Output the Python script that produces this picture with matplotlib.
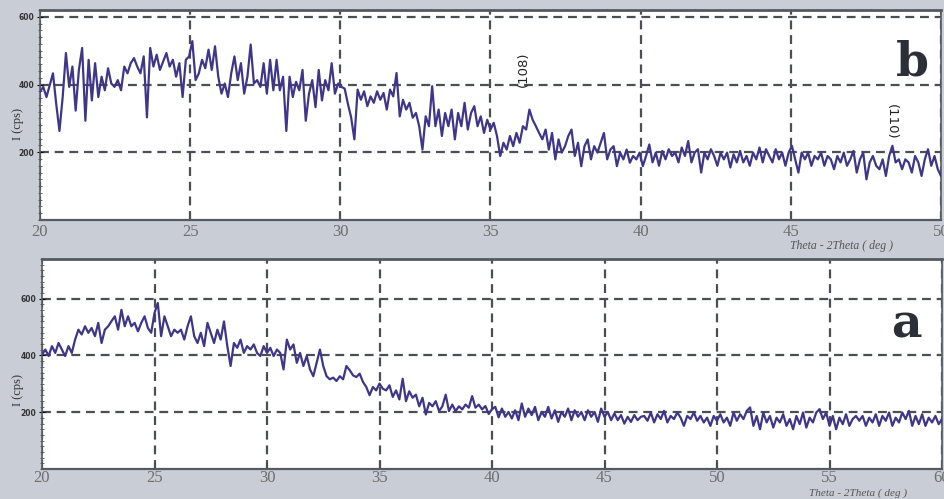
import matplotlib
matplotlib.use("Agg")
import matplotlib.pyplot as plt
import numpy as np
from matplotlib.ticker import MultipleLocator

# Intensity (cps), left to right
b_20_30 = [378, 393, 363, 398, 433, 343, 263, 363, 493, 393, 453, 323, 443, 508, 293, 473,
           353, 463, 363, 423, 383, 448, 403, 393, 413, 383, 453, 433, 463, 478, 453, 433,
           483, 303, 508, 453, 488, 443, 468, 493, 453, 473, 423, 463, 363, 473, 483, 528,
           413, 433, 473, 448, 503, 443, 513, 423, 373, 403, 363, 433, 483, 413, 463, 373,
           423, 518, 403, 413, 393, 463, 373, 473, 383, 473, 383, 423, 263, 423, 363, 408,
           383, 443, 293, 373, 413, 333, 443, 353, 413, 383, 463, 373, 403, 393, 388, 343, 303]
b_30_40 = [238, 385, 355, 380, 336, 365, 346, 380, 355, 375, 326, 385, 365, 434, 306, 355,
           326, 346, 302, 316, 277, 208, 306, 277, 395, 277, 326, 248, 316, 277, 326, 238,
           316, 277, 346, 267, 316, 336, 277, 306, 257, 296, 267, 287, 248, 189, 228, 208,
           248, 218, 257, 228, 277, 267, 326, 296, 277, 257, 238, 267, 208, 257, 179, 238,
           199, 218, 248, 267, 189, 228, 159, 218, 238, 179, 218, 199, 228, 257, 179, 208,
           218, 159, 199, 179, 208, 169, 189, 179, 199, 159, 189]
b_40_50 = [223, 170, 199, 160, 204, 179, 209, 189, 199, 170, 214, 189, 233, 170, 199, 209,
           140, 199, 179, 209, 189, 160, 199, 179, 199, 155, 194, 170, 204, 170, 189, 160,
           199, 179, 214, 170, 209, 189, 170, 209, 179, 199, 160, 199, 219, 179, 140, 199,
           179, 199, 160, 189, 179, 199, 160, 189, 179, 150, 189, 170, 199, 160, 179, 204,
           140, 179, 199, 120, 170, 189, 160, 150, 179, 130, 189, 219, 170, 179, 150, 179,
           170, 140, 189, 170, 130, 179, 209, 160, 189, 150, 130]

a_20_33 = [403, 421, 398, 433, 409, 444, 421, 398, 433, 409, 456, 491, 474, 503, 480, 497,
           468, 515, 444, 491, 503, 521, 538, 491, 561, 503, 538, 503, 515, 485, 515, 538,
           497, 480, 550, 585, 468, 538, 503, 468, 491, 480, 491, 456, 503, 538, 468, 444,
           480, 433, 515, 480, 444, 491, 456, 520, 433, 363, 444, 427, 456, 409, 433, 421,
           439, 409, 398, 433, 409, 427, 398, 421, 409, 351, 456, 421, 439, 374, 409, 363,
           398, 351, 327, 374, 421, 363, 327, 316, 322, 310, 327, 316, 363]
a_33_46 = [348, 330, 324, 336, 307, 289, 260, 289, 277, 301, 283, 277, 295, 254, 277, 245,
           318, 239, 274, 251, 262, 221, 251, 192, 233, 221, 239, 204, 221, 262, 204, 227,
           204, 221, 210, 227, 216, 257, 216, 227, 210, 222, 194, 211, 219, 182, 213, 184,
           201, 178, 207, 172, 231, 184, 213, 190, 219, 172, 201, 184, 219, 178, 207, 166,
           201, 184, 213, 172, 207, 184, 201, 172, 207, 184, 201, 166, 213, 184, 201, 172,
           196, 172, 190, 160, 184, 166, 190, 172, 184]
a_46_60 = [187, 170, 199, 164, 193, 176, 205, 164, 187, 176, 199, 181, 152, 187, 176, 199,
           170, 187, 164, 181, 152, 187, 170, 193, 164, 181, 152, 199, 170, 193, 176, 205,
           217, 152, 187, 140, 199, 164, 187, 146, 181, 164, 193, 152, 176, 140, 187, 158,
           199, 146, 181, 164, 199, 211, 176, 199, 152, 187, 140, 181, 158, 193, 152, 176,
           187, 170, 187, 152, 181, 164, 193, 152, 187, 170, 199, 152, 181, 164, 199, 176,
           205, 152, 187, 158, 193, 152, 181, 164, 187, 158, 176]

intensity_b = b_20_30 + b_30_40 + b_40_50
intensity_a = a_20_33 + a_33_46 + a_46_60
theta_b = np.linspace(20, 50, len(intensity_b))
theta_a = np.linspace(20, 60, len(intensity_a))

y_ticks = [200, 400, 600]
peaks_b = [("(108)", 36.1, 445, 90), ("(110)", 48.35, 290, 270)]

LINE = "#3f368a"
GRID = "#4a4f56"
BG = "#c9cdd6"


def style_axes(ax, xmax, xstep, ymax, xpad):
    ax.set_facecolor("white")
    ax.set_xlim(20, xmax)
    ax.set_ylim(0, ymax)
    ax.set_xticks(np.arange(20, xmax + 1, xstep))
    ax.set_yticks(y_ticks)
    ax.yaxis.set_minor_locator(MultipleLocator(20))
    ax.grid(True, color=GRID, linestyle=(0, (4, 2.6)), linewidth=1.6)
    ax.tick_params(axis="x", length=0, pad=xpad, labelsize=12, labelcolor="#6e6e6e")
    ax.tick_params(axis="y", which="major", length=4, direction="inout",
                   labelsize=5.5, labelcolor="#333333", pad=2)
    ax.tick_params(axis="y", which="minor", length=2.5, direction="inout", color="#555555")
    for lab in ax.get_xticklabels():
        lab.set_fontfamily("Liberation Serif")
    for lab in ax.get_yticklabels():
        lab.set_fontweight("bold")
    for s in ax.spines.values():
        s.set_color("#555a60")
        s.set_linewidth(1.2)
    ax.spines["top"].set_linewidth(2)
    ax.spines["bottom"].set_linewidth(1.6)


def main() -> None:
    fig = plt.figure(figsize=(9.44, 4.99), dpi=100, facecolor=BG)

    ax_b = fig.add_axes([40 / 944, 279 / 499, 901 / 944, 210 / 499])
    ax_a = fig.add_axes([42 / 944, 30 / 499, 900 / 944, 210 / 499])

    ax_b.plot(theta_b, intensity_b, color=LINE, linewidth=1.6, zorder=3)
    ax_a.plot(theta_a, intensity_a, color=LINE, linewidth=1.6, zorder=3)

    style_axes(ax_b, 50, 5, 620, 3)
    style_axes(ax_a, 60, 5, 740, 1)

    for text, x, y, rot in peaks_b:
        ax_b.text(x, y, text, rotation=rot, ha="center", va="center",
                  fontsize=9.5, color="#222222", zorder=4)

    ax_b.text(0.968, 0.75, "b", transform=ax_b.transAxes, ha="center", va="center",
              fontsize=34, fontweight="bold", family="DejaVu Serif", color="#2b3038")
    ax_a.text(0.96, 0.69, "a", transform=ax_a.transAxes, ha="center", va="center",
              fontsize=34, fontweight="bold", family="DejaVu Serif", color="#2b3038")

    for yc in (124, 390):
        fig.text(18 / 944, 1 - yc / 499, "I (cps)", rotation=90, ha="center",
                 va="center", fontsize=9, family="Liberation Serif", color="#333333")

    fig.text(842 / 944, 1 - 246 / 499, "Theta - 2Theta ( deg )", ha="center", va="center",
             fontsize=8.5, style="italic", family="Liberation Serif", color="#555555")
    fig.text(858 / 944, 1 - 493 / 499, "Theta - 2Theta ( deg )", ha="center", va="center",
             fontsize=8, style="italic", family="Liberation Serif", color="#555555")

    fig.savefig("out.png", dpi=100, facecolor=BG)


if __name__ == "__main__":
    main()
